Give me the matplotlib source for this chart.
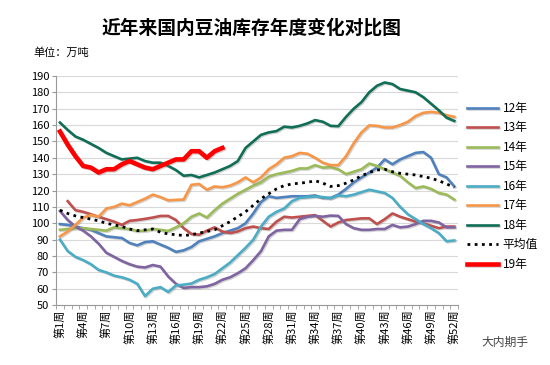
import matplotlib
matplotlib.use("Agg")
import matplotlib.pyplot as plt
import matplotlib.patheffects as pe
import numpy as np

plt.rcParams['font.family'] = ['Noto Sans CJK SC', 'DejaVu Sans']

weeks = list(range(1, 53))
week_labels = ['第%d周' % w if (w - 1) % 3 == 0 else '' for w in weeks]

y12 = [99.5, 99, 98, 97, 96, 94, 92, 91.5, 91, 88, 86.5, 88.5, 89, 87, 85, 82.5, 83.5, 85.5, 89, 90.5,
       92, 94, 95.5, 97, 100, 106, 113, 116.5, 115.5, 116, 116.5, 116.5, 116.5, 117, 115.5, 115.5, 117.5, 121, 125, 128,
       131, 134, 139, 136, 139, 141, 143, 143.5, 140, 130, 128, 122.5]
y13 = [None, 113.5, 108, 107, 105.5, 104, 102.5, 101, 99, 101.5, 102, 102.7, 103.5, 104.5, 104.5, 102, 97, 93.5, 93, 95.5,
       97.5, 95, 94, 95, 97, 98, 97, 96.5, 101, 104, 103.5, 104, 104.5, 105, 101.5, 98, 100.5, 102, 102.5, 103,
       103, 99.5, 102.5, 106, 104, 102.5, 101, 100, 98.5, 97, 98, 98]
y14 = [96, 96.5, 97, 97, 96.5, 96, 95.5, 97.5, 97, 96.5, 95.3, 95.5, 96.5, 96, 95.3, 97.5, 100, 104, 106, 103.5,
       108, 112, 115, 118, 120.5, 123, 125, 128.5, 130, 131, 132, 133.5, 133.5, 135.5, 134, 134.3, 133, 130, 131.5, 133,
       136.5, 135, 133, 131, 129, 125, 121.5, 122.5, 121, 118.5, 117.5, 114.5]
y15 = [107.5, 102, 98, 95.5, 92, 87.5, 82, 79.5, 77, 75, 73.5, 73, 74.5, 73.5, 67.5, 63, 60.5, 61, 61, 61.5,
       63, 65.5, 67, 69.5, 72.5, 77.5, 83, 92, 95.5, 96, 96, 102.5, 104, 104.5, 104, 104.7, 104.5, 99.5, 97, 96,
       96, 96.5, 96.5, 99, 97.5, 98, 99.5, 101.5, 101.5, 100.5, 97.5, 97.5]
y16 = [90, 83, 79.5, 77.5, 75, 71.5, 70, 68, 67, 65.5, 63, 55.5, 60, 61, 58, 62, 62.5, 63.2, 65.5, 67,
       69, 72.5, 76, 80.5, 85, 90, 98, 104, 107, 109, 113.5, 115.5, 116, 116.4, 116, 115.3, 117, 116.5, 117.5, 119,
       120.5, 119.5, 118.5, 115.5, 110, 105.5, 102.5, 99.5, 97, 94, 89, 89.5]
y17 = [92, 95, 99, 103.5, 105, 104, 109, 110, 112, 111, 113, 115, 117.5, 116, 114, 114.3, 114.5, 123.5, 124, 120.5,
       122.5, 122, 123, 125, 128, 125, 128, 133, 136, 140, 141, 143, 142.5, 140, 137, 135.5, 135.5, 141, 149, 155.5,
       159.8, 159.5, 158.5, 158.5, 160, 162, 165.5, 167.5, 168, 167.5, 166, 165]
y18 = [161.5, 157, 153, 151, 148.5, 146, 143, 141, 139, 139.5, 140, 138, 137, 137, 135, 132.5, 129, 129.5, 128, 129.5,
       131, 133, 135, 138, 146, 150, 154, 155.5, 156.3, 159, 158.5, 159.5, 161, 163, 162, 159.5, 159.3, 165, 170, 174,
       180, 184, 186, 185, 182, 181, 180, 177, 173, 169, 164.5, 162.5]
avg = [108, 106, 104.5, 103.5, 102.5, 101.5, 100, 99, 98, 96.5, 95.5, 96, 96.5, 94.5, 93.5, 93, 92.5, 93, 94, 95,
       96, 98.5, 101, 104, 107, 111, 115, 118, 121, 123, 124, 124.5, 125, 126, 124.5, 122.5, 123, 124.5, 126.5, 129,
       131, 132.5, 133, 131.5, 130.5, 130, 129.5, 128.5, 127.5, 126, 124, 122]
y19 = [156, 148, 141, 135, 134, 131, 133, 133, 136, 138, 136, 134, 133, 135, 137, 139, 139, 144, 144, 140,
       144, 146]

series = [
    ('12年', y12, '#4F81BD'),
    ('13年', y13, '#C0504D'),
    ('14年', y14, '#9BBB59'),
    ('15年', y15, '#8064A2'),
    ('16年', y16, '#4BACC6'),
    ('17年', y17, '#F79646'),
    ('18年', y18, '#0F6E55'),
]

fig = plt.figure(figsize=(5.5, 3.65), dpi=100)
ax = fig.add_axes([0.102, 0.164, 0.731, 0.628])

shadow = [pe.SimpleLineShadow(offset=(0.8, -0.8), shadow_color='gray', alpha=0.35), pe.Normal()]

for name, vals, col in series:
    v = np.array([np.nan if x is None else x for x in vals], dtype=float)
    ax.plot(weeks, v, color=col, lw=1.9, label=name, path_effects=shadow, solid_joinstyle='round')

ax.plot(weeks, avg, color='black', lw=2.0, linestyle=(0, (1, 1.6)), label='平均值')
ax.plot(weeks[:len(y19)], y19, color='#FF0000', lw=3.3, label='19年', path_effects=shadow,
        solid_joinstyle='round')

ax.set_ylim(50, 190)
ax.set_yticks(range(50, 191, 10))
ax.set_xlim(0.5, 52.5)
ax.set_xticks(weeks)
ax.set_xticklabels(week_labels, rotation=90, fontsize=8)
ax.set_xticks(np.arange(0.5, 53, 1), minor=True)
ax.tick_params(axis='x', which='major', length=0, pad=3)
ax.tick_params(axis='x', which='minor', length=3, color='#999999', direction='out')
ax.tick_params(axis='y', length=3, color='#999999', labelsize=8, pad=2)
ax.grid(axis='y', color='#D9D9D9', lw=0.8)
ax.set_axisbelow(True)
for s in ['top', 'right']:
    ax.spines[s].set_visible(False)
for s in ['left', 'bottom']:
    ax.spines[s].set_color('#999999')
    ax.spines[s].set_linewidth(0.8)

leg = ax.legend(loc='upper left', bbox_to_anchor=(0.83, 0.75), bbox_transform=fig.transFigure,
                frameon=False, fontsize=8.5, handlelength=2.6, labelspacing=0.55, handletextpad=0.4)

fig.text(0.458, 0.922, '近年来国内豆油库存年度变化对比图', ha='center', va='center',
         fontsize=13.5, fontweight='bold')
fig.text(0.06, 0.855, '单位：万吨', ha='left', va='center', fontsize=8)
fig.text(0.875, 0.063, '大内期手', ha='left', va='center', fontsize=8.5, color='#444444')

fig.savefig('out.png', dpi=100)
